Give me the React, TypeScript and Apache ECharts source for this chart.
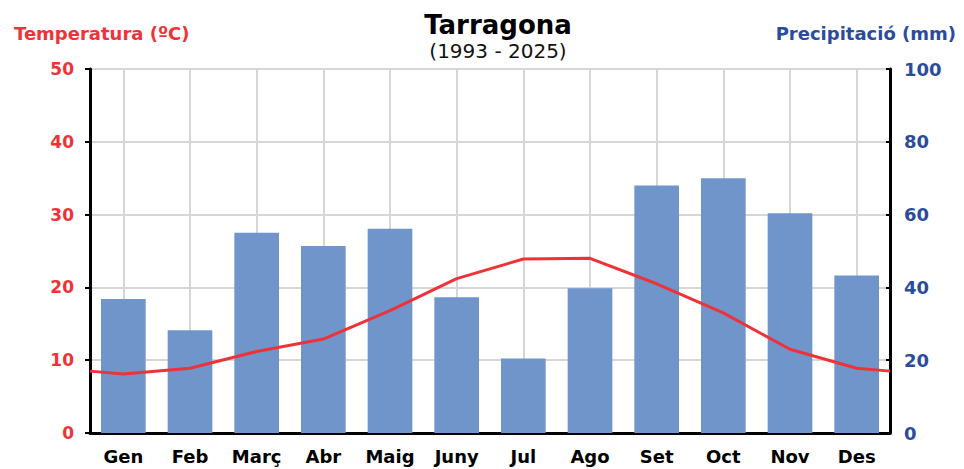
import React, { useEffect, useRef } from "react";
import * as echarts from "echarts";

const months = ["Gen", "Feb", "Març", "Abr", "Maig", "Juny", "Jul", "Ago", "Set", "Oct", "Nov", "Des"];
const precipitation = [36.8, 28.2, 55.0, 51.4, 56.1, 37.3, 20.5, 39.8, 68.0, 70.0, 60.4, 43.3];
const temperature = [8.1, 8.9, 11.2, 12.9, 16.8, 21.2, 23.9, 24.0, 20.5, 16.5, 11.5, 8.9];
const tempStartEdge = 8.5;
const tempEndEdge = 8.5;
const tempTicks = [0, 10, 20, 30, 40, 50];
const precipTicks = [0, 20, 40, 60, 80, 100];

const RED = "#ee3338";
const BLUE = "#2b4c9c";
const BAR = "#6f95cb";
const FONT = "DejaVu Sans";

export default function App() {
  const ref = useRef<HTMLDivElement>(null);
  useEffect(() => {
    if (!ref.current) return;
    const chart = echarts.init(ref.current, undefined, { renderer: "svg" });
    const lineData: [number, number][] = [[0, tempStartEdge]];
    temperature.forEach((t, i) => lineData.push([i + 0.5, t]));
    lineData.push([months.length, tempEndEdge]);

    chart.setOption({
      animation: false,
      backgroundColor: "#ffffff",
      title: [
        {
          text: "Tarragona",
          subtext: "(1993 - 2025)",
          left: 493,
          textAlign: "center",
          top: 7,
          itemGap: 3,
          textStyle: { fontFamily: FONT, fontWeight: "bold", fontSize: 26, color: "#000" },
          subtextStyle: { fontFamily: FONT, fontSize: 20, color: "#111" },
        },
        {
          text: "Temperatura (ºC)",
          left: 9,
          top: 19,
          textStyle: { fontFamily: FONT, fontWeight: "bold", fontSize: 18, color: RED },
        },
        {
          text: "Precipitació (mm)",
          right: 3,
          top: 19,
          textStyle: { fontFamily: FONT, fontWeight: "bold", fontSize: 18, color: BLUE },
        },
      ],
      grid: { left: 90, right: 74, top: 69, bottom: 36, containLabel: false },
      xAxis: [
        {
          type: "category",
          data: months,
          boundaryGap: true,
          axisLine: { lineStyle: { color: "#000", width: 3 } },
          axisTick: { interval: 0, alignWithLabel: true, length: 6, lineStyle: { color: "#000", width: 2 } },
          axisLabel: {
            interval: 0,
            hideOverlap: false,
            fontFamily: FONT,
            fontWeight: "bold",
            fontSize: 18,
            color: "#000",
            margin: 14,
          },
          splitLine: { show: true, interval: 0, alignWithLabel: true, lineStyle: { color: "#d6d6d6", width: 2 } },
        },
        {
          type: "value",
          min: 0,
          max: months.length,
          show: false,
        },
      ],
      yAxis: [
        {
          type: "value",
          min: 0,
          max: 50,
          interval: 10,
          position: "left",
          axisLine: { show: true, lineStyle: { color: "#000", width: 3 } },
          axisTick: { show: true, length: 5, lineStyle: { color: "#000", width: 2 } },
          axisLabel: {
            fontFamily: FONT,
            fontWeight: "bold",
            fontSize: 17,
            color: RED,
            margin: 16,
            formatter: (v: number) => (tempTicks.includes(v) ? String(v) : ""),
          },
          splitLine: { show: true, lineStyle: { color: "#d6d6d6", width: 2 } },
        },
        {
          type: "value",
          min: 0,
          max: 100,
          interval: 20,
          position: "right",
          axisLine: { show: true, lineStyle: { color: "#000", width: 3 } },
          axisTick: { show: true, length: 4, inside: true, lineStyle: { color: "#000", width: 2 } },
          axisLabel: {
            fontFamily: FONT,
            fontWeight: "bold",
            fontSize: 18,
            color: BLUE,
            margin: 14,
            formatter: (v: number) => (precipTicks.includes(v) ? String(v) : ""),
          },
          splitLine: { show: false },
        },
      ],
      series: [
        {
          name: "Precipitació",
          type: "bar",
          xAxisIndex: 0,
          yAxisIndex: 1,
          data: precipitation,
          barCategoryGap: "33%",
          itemStyle: { color: BAR },
          z: 2,
        },
        {
          name: "Temperatura",
          type: "line",
          xAxisIndex: 1,
          yAxisIndex: 0,
          data: lineData,
          symbol: "none",
          lineStyle: { color: RED, width: 3 },
          z: 3,
        },
      ],
    });
    return () => chart.dispose();
  }, []);

  return <div ref={ref} style={{ width: 964, height: 469, position: "absolute", left: 0, top: 0 }} />;
}
